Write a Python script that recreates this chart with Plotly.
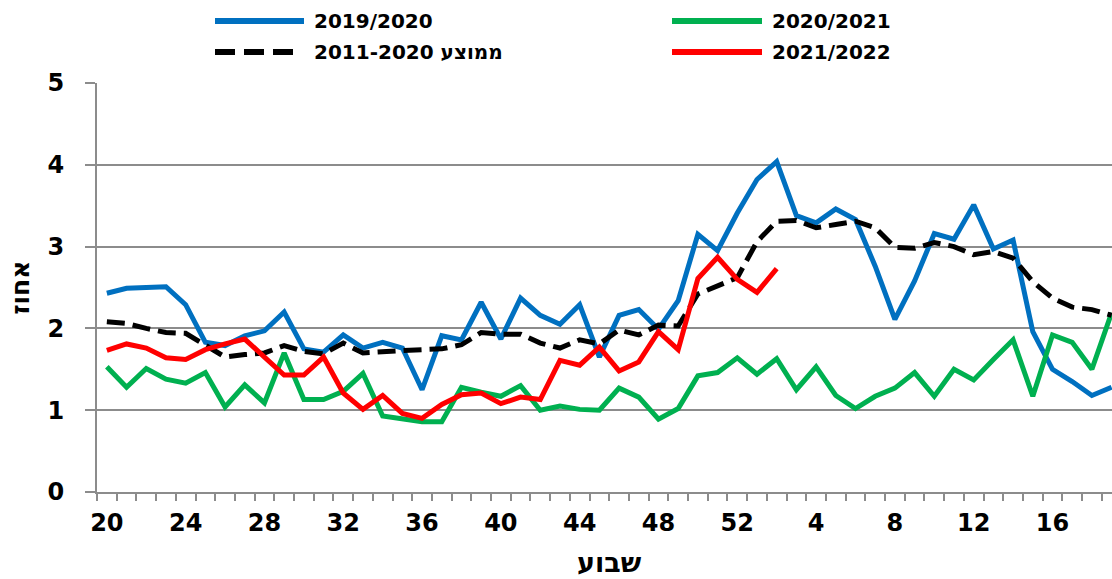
import plotly.graph_objects as go

# ---- data ----
weeks = list(range(20, 53)) + list(range(1, 20))

s_2019_2020 = [2.43, 2.49, 2.50, 2.51, 2.29, 1.83, 1.79, 1.91, 1.97, 2.20,
               1.75, 1.71, 1.92, 1.76, 1.83, 1.76, 1.25, 1.91, 1.86, 2.32,
               1.87, 2.37, 2.16, 2.05, 2.29, 1.65, 2.16, 2.23, 1.99, 2.34,
               3.15, 2.95, 3.41, 3.82, 4.04, 3.38, 3.29, 3.46, 3.33, 2.76,
               2.11, 2.58, 3.16, 3.09, 3.51, 2.97, 3.08, 1.96, 1.50, 1.35,
               1.18, 1.28]

s_2020_2021 = [1.53, 1.28, 1.51, 1.38, 1.33, 1.46, 1.04, 1.31, 1.09, 1.70,
               1.13, 1.13, 1.23, 1.45, 0.93, 0.89, 0.86, 0.86, 1.28, 1.22,
               1.17, 1.30, 1.00, 1.05, 1.01, 1.00, 1.27, 1.16, 0.89, 1.02,
               1.42, 1.46, 1.64, 1.44, 1.63, 1.25, 1.53, 1.18, 1.02, 1.17,
               1.27, 1.46, 1.17, 1.50, 1.37, 1.62, 1.86, 1.17, 1.92, 1.83,
               1.50, 2.19]

s_avg = [2.08, 2.06, 2.00, 1.95, 1.94, 1.79, 1.65, 1.68, 1.70, 1.79,
         1.72, 1.69, 1.82, 1.70, 1.72, 1.73, 1.74, 1.75, 1.80, 1.95,
         1.93, 1.93, 1.82, 1.76, 1.86, 1.81, 1.98, 1.92, 2.04, 2.03,
         2.42, 2.52, 2.62, 3.06, 3.31, 3.32, 3.23, 3.27, 3.31, 3.23,
         2.99, 2.98, 3.05, 3.00, 2.90, 2.94, 2.86, 2.57, 2.37, 2.26,
         2.23, 2.16]

s_2021_2022 = [1.73, 1.81, 1.76, 1.64, 1.62, 1.74, 1.81, 1.87, 1.65, 1.43,
               1.43, 1.65, 1.21, 1.01, 1.18, 0.96, 0.90, 1.07, 1.19, 1.21,
               1.08, 1.16, 1.13, 1.61, 1.55, 1.77, 1.48, 1.59, 1.96, 1.74,
               2.61, 2.87, 2.60, 2.44, 2.73]

names = ["2019/2020", "2020/2021", "2011-2020 ממוצע", "2021/2022"]
colors = ["#0070C0", "#00B050", "#000000", "#FF0000"]
dashes = ["solid", "solid", "18px,8px", "solid"]
series = [s_2019_2020, s_2020_2021, s_avg, s_2021_2022]

x_title = "שבוע"
y_title = "אחוז"
y_ticks = [0, 1, 2, 3, 4, 5]

# ---- figure ----
FONT = "DejaVu Sans"
GRAY = "#8c8c8c"
fig = go.Figure()
for name, col, dsh, vals in zip(names, colors, dashes, series):
    fig.add_trace(go.Scatter(
        x=list(range(len(vals))), y=vals, mode="lines", name=name,
        line=dict(color=col, width=5, dash=dsh), showlegend=False,
    ))

tick_pos = list(range(0, len(weeks), 4))
fig.update_layout(
    width=1112, height=579,
    margin=dict(l=97, r=0, t=83, b=87),
    plot_bgcolor="white", paper_bgcolor="white",
    font=dict(family=FONT, color="black"),
    xaxis=dict(
        range=[-0.5, 51.02], tickmode="array", tickvals=tick_pos,
        ticktext=[str(weeks[i]) for i in tick_pos], ticks="",
        showgrid=False, zeroline=False, showline=True, linecolor=GRAY, linewidth=2,
        tickfont=dict(family=FONT, size=24, weight="bold"),
        ticklabelstandoff=8,
        minor=dict(ticks="outside", tickmode="linear", tick0=-0.5, dtick=1,
                   ticklen=7, tickwidth=2, tickcolor=GRAY, showgrid=False),
    ),
    yaxis=dict(
        range=[0, 5], tickmode="array", tickvals=y_ticks,
        ticks="outside", ticklen=10, tickwidth=2, tickcolor=GRAY,
        showgrid=True, gridcolor=GRAY, gridwidth=1.5, zeroline=False,
        showline=True, linecolor=GRAY, linewidth=2,
        tickfont=dict(family=FONT, size=24, weight="bold"),
        ticklabelstandoff=16,
        title=dict(text=y_title, font=dict(family=FONT, size=25, weight="bold"), standoff=11),
    ),
)

# ---- positions in page pixels -> paper coordinates ----
plot_left, plot_w = 97, 1015
plot_top, plot_h = 83, 409

def px_x(px):
    return (px - plot_left) / plot_w

def px_y(py):
    return 1 + (plot_top - py) / plot_h

# x-axis title
fig.add_annotation(xref="paper", yref="paper", x=px_x(609), y=px_y(562),
                   text=x_title, showarrow=False, xanchor="center", yanchor="middle",
                   font=dict(family=FONT, size=27, weight="bold", color="black"))

# manual legend (two columns, two rows)
legend_slots = [(215, 304, 312, 21), (672, 762, 770, 21),
                (215, 294, 312, 52), (672, 762, 770, 52)]
for (x0, x1, tx, yy), name, col, dsh in zip(legend_slots, names, colors, dashes):
    fig.add_shape(type="line", xref="paper", yref="paper",
                  x0=px_x(x0), x1=px_x(x1), y0=px_y(yy), y1=px_y(yy),
                  line=dict(color=col, width=6, dash="20px,9px" if dsh != "solid" else "solid"))
    fig.add_annotation(xref="paper", yref="paper", x=px_x(tx), y=px_y(yy),
                       text=name, showarrow=False, xanchor="left", yanchor="middle",
                       font=dict(family=FONT, size=20, weight="bold", color="black"))

fig.write_html("out.html", config={"displayModeBar": False},
               post_script="document.body.style.margin='0px';")
